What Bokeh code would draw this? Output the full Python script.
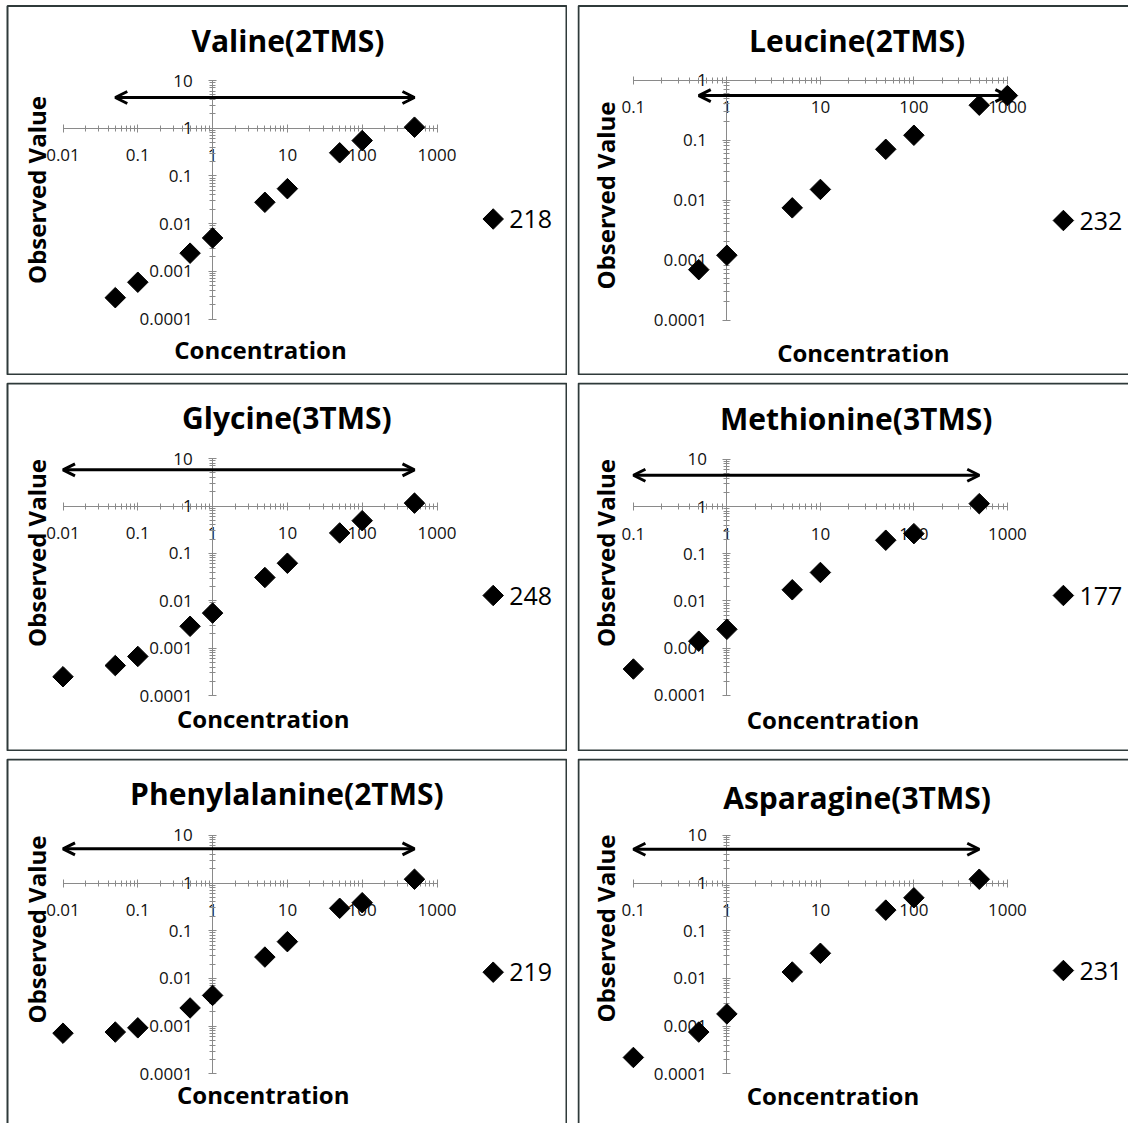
import numpy as np
from bokeh.plotting import figure
from bokeh.layouts import column, row
from bokeh.models import (Range1d, FixedTicker, CustomJSTickFormatter, Label,
                          Arrow, OpenHead, BoxAnnotation, ColumnDataSource)
from bokeh.embed import file_html
from bokeh.resources import INLINE

# ---------------- data ----------------
TITLES = ["Valine(2TMS)", "Leucine(2TMS)", "Glycine(3TMS)",
          "Methionine(3TMS)", "Phenylalanine(2TMS)", "Asparagine(3TMS)"]
SERIES = ["218", "232", "248", "177", "219", "231"]

VALINE_CONC = [0.05, 0.1, 0.5, 1, 5, 10, 50, 100, 500]
VALINE_OBS = [0.00028, 0.00059, 0.0024, 0.0050, 0.028, 0.054, 0.305, 0.55, 1.05]
LEUCINE_CONC = [0.5, 1, 5, 10, 50, 100, 500, 1000]
LEUCINE_OBS = [0.00069, 0.0012, 0.0074, 0.015, 0.07, 0.12, 0.38, 0.55]
GLYCINE_CONC = [0.01, 0.05, 0.1, 0.5, 1, 5, 10, 50, 100, 500]
GLYCINE_OBS = [0.00025, 0.00043, 0.00067, 0.0029, 0.0055, 0.031, 0.062, 0.27, 0.49, 1.15]
METHIONINE_CONC = [0.1, 0.5, 1, 5, 10, 50, 100, 500]
METHIONINE_OBS = [0.00036, 0.0014, 0.0025, 0.0172, 0.040, 0.193, 0.266, 1.15]
PHENYLALANINE_CONC = [0.01, 0.05, 0.1, 0.5, 1, 5, 10, 50, 100, 500]
PHENYLALANINE_OBS = [0.00071, 0.00075, 0.00092, 0.0024, 0.0044, 0.028, 0.059, 0.295, 0.386, 1.2]
ASPARAGINE_CONC = [0.1, 0.5, 1, 5, 10, 50, 100, 500]
ASPARAGINE_OBS = [0.00022, 0.00075, 0.0018, 0.0136, 0.0336, 0.27, 0.49, 1.2]

ARROW_Y = [4.4, 0.55, 5.8, 4.6, 5.2, 5.1]

X_TICKS_WIDE = [0.01, 0.1, 1, 10, 100, 1000]
X_LABELS_WIDE = ["0.01", "0.1", "1", "10", "100", "1000"]
X_TICKS_NARROW = [0.1, 1, 10, 100, 1000]
X_LABELS_NARROW = ["0.1", "1", "10", "100", "1000"]
Y_TICKS_TALL = [0.0001, 0.001, 0.01, 0.1, 1, 10]
Y_LABELS_TALL = ["0.0001", "0.001", "0.01", "0.1", "1", "10"]
Y_TICKS_SHORT = [0.0001, 0.001, 0.01, 0.1, 1]
Y_LABELS_SHORT = ["0.0001", "0.001", "0.01", "0.1", "1"]

PANELS = [
    (VALINE_CONC, VALINE_OBS, X_TICKS_WIDE, X_LABELS_WIDE, Y_TICKS_TALL, Y_LABELS_TALL),
    (LEUCINE_CONC, LEUCINE_OBS, X_TICKS_NARROW, X_LABELS_NARROW, Y_TICKS_SHORT, Y_LABELS_SHORT),
    (GLYCINE_CONC, GLYCINE_OBS, X_TICKS_WIDE, X_LABELS_WIDE, Y_TICKS_TALL, Y_LABELS_TALL),
    (METHIONINE_CONC, METHIONINE_OBS, X_TICKS_NARROW, X_LABELS_NARROW, Y_TICKS_TALL, Y_LABELS_TALL),
    (PHENYLALANINE_CONC, PHENYLALANINE_OBS, X_TICKS_WIDE, X_LABELS_WIDE, Y_TICKS_TALL, Y_LABELS_TALL),
    (ASPARAGINE_CONC, ASPARAGINE_OBS, X_TICKS_NARROW, X_LABELS_NARROW, Y_TICKS_TALL, Y_LABELS_TALL),
]

# ---------------- layout (page pixels) ----------------
COL_L = [0, 577]
COL_W = [567, 551]
ROW_T = [0, 382, 758]
ROW_H = [375, 369, 365]
BOX_LEFT = [7, 578]
BOX_RIGHT = [566, 1160]
BOX_TOP = [5.5, 383, 759]
BOX_BOTTOM = [374, 750, 1160]
# page position of value 1 and pixels per decade: (x1, xdec, y1, ydec)
CAL = [(212.1, 74.8, 127.7, 47.7), (726.4, 93.5, 79.5, 60.0),
       (212.1, 74.8, 505.5, 47.4), (726.4, 93.5, 506.0, 47.2),
       (212.1, 74.8, 882.5, 47.7), (726.4, 93.5, 882.5, 47.7)]
TITLE_POS = [(287.5, 40), (856.6, 40), (286.4, 416.7), (855.7, 417.5), (286.4, 792.5), (856.6, 797)]
XLABEL_POS = [(260, 348.5), (862.9, 351.7), (262.7, 717.5), (832.5, 719), (262.7, 1094), (832.5, 1095)]
YLABEL_POS = [(35.5, 189.5), (604.8, 195), (35.5, 552.5), (604.8, 552.5), (35.5, 929), (604.8, 928)]
LEGEND_POS = [(492.7, 218.5), (1062.9, 220), (492.7, 595), (1062.9, 595), (492.7, 971.7), (1062.9, 970)]
LEGEND_TEXT_DX = 16

FONT = "Open Sans"
AXIS_GRAY = "#8a8a8a"
BORDER = "#2f3a3a"
FMT = """
let best = 0, d = Infinity;
for (let i = 0; i < tv.length; i++) {
  const e = Math.abs(Math.log10(tv[i]) - Math.log10(tick));
  if (e < d) { d = e; best = i; }
}
return tl[best];
"""


def minor(ticks):
    return [m * t for t in ticks[:-1] for m in range(2, 10)]


def make_panel(i):
    conc, obs, xt, xl, yt, yl = PANELS[i]
    r, c = divmod(i, 2)
    L, W, T, H = COL_L[c], COL_W[c], ROW_T[r], ROW_H[r]
    x1, xd, y1, yd = CAL[i]
    xr = Range1d(10 ** ((L - x1) / xd), 10 ** ((L + W - x1) / xd))
    yr = Range1d(10 ** ((y1 - (T + H)) / yd), 10 ** ((y1 - T) / yd))
    p = figure(width=W, height=H, x_axis_type="log", y_axis_type="log",
               x_range=xr, y_range=yr, output_backend="svg", toolbar_location=None,
               min_border=0, min_border_left=0, min_border_right=0,
               min_border_top=0, min_border_bottom=0,
               outline_line_color=None, background_fill_color="white",
               border_fill_color="white")
    p.xgrid.visible = False
    p.ygrid.visible = False

    def fx(px):
        return px - L

    def fy(py):
        return T + H - py

    xa, ya = p.xaxis[0], p.yaxis[0]
    xa.fixed_location = 1
    ya.fixed_location = 1
    xa.bounds = (xt[0], xt[-1])
    ya.bounds = (yt[0], yt[-1])
    xa.ticker = FixedTicker(ticks=xt, minor_ticks=minor(xt))
    ya.ticker = FixedTicker(ticks=yt, minor_ticks=minor(yt))
    xa.formatter = CustomJSTickFormatter(args=dict(tv=xt, tl=xl), code=FMT)
    ya.formatter = CustomJSTickFormatter(args=dict(tv=yt, tl=yl), code=FMT)
    for ax in (xa, ya):
        ax.level = "underlay"
        ax.axis_line_color = AXIS_GRAY
        ax.axis_line_width = 1
        ax.major_tick_line_color = AXIS_GRAY
        ax.minor_tick_line_color = AXIS_GRAY
        ax.major_tick_in = 4
        ax.major_tick_out = 4
        ax.minor_tick_in = 3
        ax.minor_tick_out = 3
        ax.major_label_text_font = FONT
        ax.major_label_text_font_size = "17px"
        ax.major_label_text_color = "#111111"
    xa.major_label_standoff = 17
    ya.major_label_standoff = 16

    # panel border (right column's right side and last row's bottom run off the page)
    p.add_layout(BoxAnnotation(left=fx(BOX_LEFT[c]), right=fx(BOX_RIGHT[c]),
                               top=fy(BOX_TOP[r]), bottom=fy(BOX_BOTTOM[r]),
                               left_units="screen", right_units="screen",
                               top_units="screen", bottom_units="screen",
                               fill_color=None, fill_alpha=0,
                               line_color=BORDER, line_alpha=1.0, line_width=2))

    # double-headed arrow over the measured concentration range
    p.add_layout(Arrow(x_start=min(conc), x_end=max(conc), y_start=ARROW_Y[i], y_end=ARROW_Y[i],
                       line_width=3, line_color="black",
                       start=OpenHead(size=12, line_width=3, line_color="black"),
                       end=OpenHead(size=12, line_width=3, line_color="black")))

    src = ColumnDataSource(dict(x=conc, y=obs))
    p.scatter("x", "y", source=src, marker="square", angle=np.pi / 4, size=14.5,
              fill_color="black", line_color="black")

    # legend key (diamond) + series name
    lx, ly = LEGEND_POS[i]
    key = ColumnDataSource(dict(x=[10 ** ((lx - x1) / xd)], y=[10 ** ((y1 - ly) / yd)]))
    p.scatter("x", "y", source=key, marker="square", angle=np.pi / 4, size=14.5,
              fill_color="black", line_color="black")
    p.add_layout(Label(x=fx(lx + LEGEND_TEXT_DX), y=fy(ly), x_units="screen", y_units="screen",
                       text=SERIES[i], text_align="left", text_baseline="middle",
                       text_font=FONT, text_font_size="25px", text_color="black"))

    p.add_layout(Label(x=fx(TITLE_POS[i][0]), y=fy(TITLE_POS[i][1]), x_units="screen", y_units="screen",
                       text=TITLES[i], text_align="center", text_baseline="middle",
                       text_font=FONT, text_font_style="bold", text_font_size="30px", text_color="black"))
    p.add_layout(Label(x=fx(XLABEL_POS[i][0]), y=fy(XLABEL_POS[i][1]), x_units="screen", y_units="screen",
                       text="Concentration", text_align="center", text_baseline="middle",
                       text_font=FONT, text_font_style="bold", text_font_size="24px", text_color="black"))
    p.add_layout(Label(x=fx(YLABEL_POS[i][0]), y=fy(YLABEL_POS[i][1]), x_units="screen", y_units="screen",
                       text="Observed Value", text_align="center", text_baseline="middle", angle=np.pi / 2,
                       text_font=FONT, text_font_style="bold", text_font_size="24px", text_color="black"))
    return p


figs = [make_panel(i) for i in range(6)]
layout = column(row(figs[0], figs[1], spacing=10),
                row(figs[2], figs[3], spacing=10),
                row(figs[4], figs[5], spacing=10), spacing=7)

open("out.html", "w").write(file_html(layout, INLINE))
